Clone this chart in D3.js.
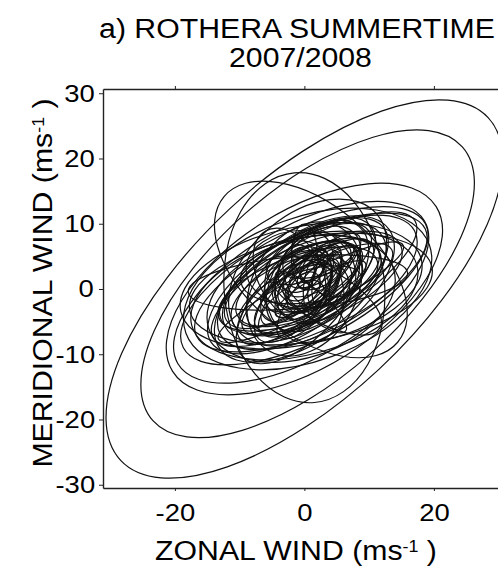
<!DOCTYPE html>
<html>
<head>
<meta charset="utf-8">
<script src="https://cdn.jsdelivr.net/npm/d3@7"></script>
<style>
  body { margin: 0; background: #fff; }
  svg { display: block; }
  text { font-family: "Liberation Sans", Arial, sans-serif; fill: #000; }
  .wide { transform-box: fill-box; transform-origin: center; transform: scaleX(1.12); }
</style>
</head>
<body>
<div id="chart"></div>
<script>
// width and height of the page
var width = 498;
var height = 567;

// hodograph ellipses (ms-1, tilt in degrees from the zonal axis)
var centreU   = [0, 0.5, 0, 1, 0, -0.5, 0, 1, 0.5, 0, 1.5, 0, 1, -0.5, 1, -1,
                 0, 1, -1, 2, 0, 1, -2, 2, 0, 1, -1, 1.5, 0.5, 2, 0, 3, -3, 1, -1, 2,
                 0, -2, 3, 1, -1, 0.5, 2, -0.5, 1, 0, 1, -1.5, 2.5, 0, 1,
                 2, 3, 1, -1, 0, 2.5, 1.5, -2, 3.5, 0.5, 1, -0.5, 2, 4, -3, 1.5, 0, 2, -1, 3];
var centreV   = [0, 0.8, 0.2, 3, 0, -0.5, 0.5, 1, 0, -1, 1.5, 0, 0, 0.5, -0.5, 1,
                 1, 2, 0, 2, 0, 1, -1, 3, 2, 0, 1, 1.5, 0.5, 1, 1.5, 2, -2, 3, -2, 0,
                 3, 2, -1, 1, 0.5, 2.5, 1, -1.5, 0, 0, 2, 0, 2.5, -0.5, 1.5,
                 3, 1, 4, -1, 2, 0, 3.5, -3, 2, 1, -2, 3, 4.5, 3, -1, 0.5, 5, -0.5, 2, 4];
var semiMajor = [38.8, 31.9, 17.8, 17.5, 24, 22, 21, 19.5, 20, 18, 18, 16, 19, 19, 16, 17,
                 14, 12, 13, 10, 11, 9, 10, 8, 7, 8, 6, 6, 5, 5, 4, 7, 9, 11, 12, 13,
                 9, 8, 10, 15, 16, 14, 17, 15, 6, 3, 3.5, 5, 4, 8, 10,
                 6, 4, 7, 9, 5, 8, 3, 6, 5, 12, 7, 4, 6, 3, 8, 11, 5, 9, 13, 6];
var semiMinor = [16.8, 14.4, 12.3, 10, 12, 10, 8.5, 7.5, 11, 9, 6, 8, 8, 9, 3, 4,
                 7, 6, 5, 6, 8, 4, 5, 5, 4, 3, 4, 3, 3, 2, 2.5, 3, 4, 5, 6, 4,
                 6, 5, 4, 6, 7, 9, 7.5, 9, 5, 2, 1.5, 2, 2, 6, 3,
                 3, 2, 2.5, 4, 3, 2, 1.5, 3, 2, 5, 2, 3, 2.5, 1, 3, 4, 2, 3, 5, 4];
var tilt      = [43, 41.5, 95, -40, 32, 30, 27, 25, 20, 15, 30, 35, 10, 12, 27, 5,
                 30, 40, 20, 50, 60, 35, 25, 45, 70, 15, 40, 55, 30, 80, 45, 35, 40, 10, 45, 28,
                 0, 120, 150, 22, 33, 40, 28, 18, 10, 50, 20, 60, 30, 100, 42,
                 35, 65, 20, 48, 110, 30, 55, 38, 75, 25, 140, 45, 15, 60, 30, 36, 90, 50, 32, 130];

var xTicks = [-20, 0, 20];
var yTicks = [-30, -20, -10, 0, 10, 20, 30];

var svg = d3.select("#chart")
    .append("svg")
    .attr("width", width)
    .attr("height", height);

// plot frame
var plotLeft = 103, plotRight = 498, plotTop = 89, plotBottom = 488;

var x = d3.scaleLinear().domain([-31.1, 29.9]).range([plotLeft, plotRight]);
var y = d3.scaleLinear().domain([-30.5, 30.65]).range([plotBottom, plotTop]);

svg.append("clipPath")
    .attr("id", "plotclip")
    .append("rect")
    .attr("x", plotLeft)
    .attr("y", plotTop)
    .attr("width", plotRight - plotLeft)
    .attr("height", plotBottom - plotTop);

var rows = d3.range(centreU.length);

svg.append("g")
    .attr("clip-path", "url(#plotclip)")
    .selectAll("ellipse")
    .data(rows)
    .enter()
    .append("ellipse")
    .attr("cx", function(i) { return x(centreU[i]); })
    .attr("cy", function(i) { return y(centreV[i]); })
    .attr("rx", function(i) { return x(semiMajor[i]) - x(0); })
    .attr("ry", function(i) { return y(0) - y(semiMinor[i]); })
    .attr("transform", function(i) {
        return "rotate(" + (-tilt[i]) + "," + x(centreU[i]) + "," + y(centreV[i]) + ")";
    })
    .style("fill", "none")
    .style("stroke", "#111")
    .style("stroke-width", 1.2);

// axes (plain hyphen for negatives, like the original)
var fmt = function(d) { return String(d); };
var xAxis = d3.axisBottom(x).tickValues(xTicks).tickSize(3).tickSizeOuter(0).tickPadding(13).tickFormat(fmt);
var xTop = d3.axisTop(x).tickValues(xTicks).tickSize(3).tickSizeOuter(0).tickFormat("");
var yAxis = d3.axisLeft(y).tickValues(yTicks).tickSize(4).tickSizeOuter(0).tickPadding(6).tickFormat(fmt);

var gx = svg.append("g").attr("transform", "translate(0," + plotBottom + ")").call(xAxis);
svg.append("g").attr("transform", "translate(0," + plotTop + ")").call(xTop);
var gy = svg.append("g").attr("transform", "translate(" + plotLeft + ",0)").call(yAxis);

svg.selectAll(".domain").style("stroke", "#222").style("stroke-width", 1.4);
svg.selectAll(".tick line").style("stroke", "#222");

gx.selectAll("text").attr("class", "wide").style("font-size", "24.5px").attr("fill", "#000");
gy.selectAll("text").attr("class", "wide").style("font-size", "24.5px").attr("fill", "#000");

// title
svg.append("text")
    .attr("class", "wide")
    .attr("x", 297)
    .attr("y", 38)
    .attr("text-anchor", "middle")
    .style("font-size", "27px")
    .text("a) ROTHERA SUMMERTIME");

svg.append("text")
    .attr("class", "wide")
    .attr("x", 300.5)
    .attr("y", 67)
    .attr("text-anchor", "middle")
    .style("font-size", "27px")
    .text("2007/2008");

// axis titles with superscript
function unitLabel(sel, name) {
    sel.append("tspan").text(name + " (ms");
    sel.append("tspan").attr("baseline-shift", "super").style("font-size", "16px").text("-1");
    sel.append("tspan").text(" )");
}

svg.append("text")
    .attr("class", "wide")
    .attr("x", 296)
    .attr("y", 560)
    .attr("text-anchor", "middle")
    .style("font-size", "27px")
    .call(unitLabel, "ZONAL WIND");

svg.append("g")
    .attr("transform", "translate(52,283) rotate(-90)")
    .append("text")
    .attr("class", "wide")
    .attr("text-anchor", "middle")
    .style("font-size", "27px")
    .call(unitLabel, "MERIDIONAL WIND");
</script>
</body>
</html>
